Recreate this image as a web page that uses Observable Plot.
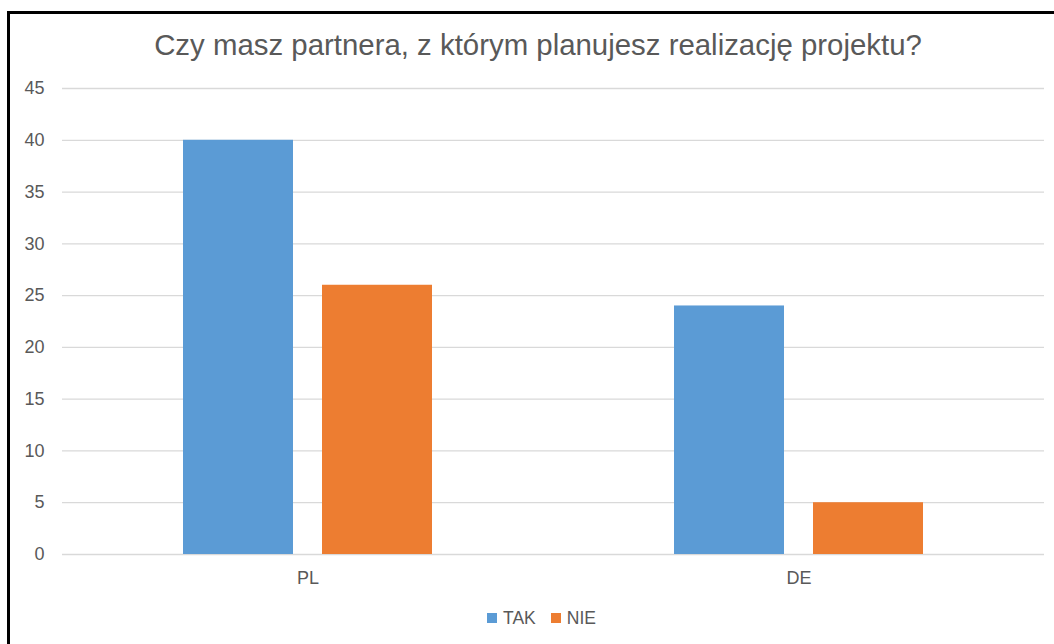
<!DOCTYPE html>
<html>
<head>
<meta charset="utf-8">
<script src="https://cdn.jsdelivr.net/npm/d3@7"></script>
<script src="https://cdn.jsdelivr.net/npm/@observablehq/plot@0.6"></script>
<style>
  html, body { margin: 0; padding: 0; background: #fff; }
  body { width: 1054px; height: 644px; position: relative; overflow: hidden; font-family: "Liberation Sans", Arial, sans-serif; }
  #frame { position: absolute; left: 7px; top: 11px; width: 1060px; height: 650px; border-left: 3px solid #000; border-top: 3px solid #000; box-sizing: border-box; }
  #title { position: absolute; left: 0; width: 1076px; top: 30px; text-align: center; font-size: 29.4px; line-height: 29px; color: #595959; white-space: nowrap; }
  #chart { position: absolute; left: 0; top: 0; }
  #legend { position: absolute; left: 487px; top: 608px; height: 20px; display: flex; align-items: center; font-size: 17.5px; line-height: 20px; color: #595959; white-space: nowrap; }
  .item { display: flex; align-items: center; margin-right: 15px; }
  .sw { display: inline-block; width: 10px; height: 10px; margin-right: 6px; }
</style>
</head>
<body>
<div id="frame"></div>
<div id="title"></div>
<div id="chart"></div>
<div id="legend"></div>
<script>
const titleText = "Czy masz partnera, z którym planujesz realizację projektu?";
const categories = ["PL", "DE"];
const series = ["TAK", "NIE"];
const takValues = [40, 24];
const nieValues = [26, 5];
const yTicks = [0, 5, 10, 15, 20, 25, 30, 35, 40, 45];
const colors = ["#5B9BD5", "#ED7D31"];

const data = [];
categories.forEach((c, i) => {
  data.push({category: c, series: "TAK", value: takValues[i]});
  data.push({category: c, series: "NIE", value: nieValues[i]});
});

document.getElementById("title").textContent = titleText;

const plot = Plot.plot({
  width: 1054,
  height: 600,
  marginLeft: 61,
  marginRight: 10,
  marginTop: 88,
  marginBottom: 46,
  style: {fontFamily: "'Liberation Sans', Arial, sans-serif", fontSize: "18px", color: "#595959", background: "transparent"},
  fx: {domain: categories, padding: 0, label: null},
  x: {domain: series, paddingInner: 0.21, paddingOuter: 0.87, axis: null},
  y: {domain: [0, 45], label: null},
  color: {domain: series, range: colors},
  marks: [
    Plot.gridY(yTicks, {stroke: "#d9d9d9", strokeOpacity: 1, strokeWidth: 1.3}),
    Plot.barY(data, {fx: "category", x: "series", y: "value", fill: "series"}),
    Plot.axisY(yTicks, {tickSize: 0, tickPadding: 18, fill: "#595959", fontSize: 18, label: null}),
    Plot.axisFx({anchor: "bottom", tickSize: 0, tickPadding: 17, fill: "#595959", fontSize: 18, label: null})
  ]
});
document.getElementById("chart").appendChild(plot);

const colorScale = plot.scale("color");
const legend = d3.select("#legend");
const items = legend.selectAll(".item").data(colorScale.domain).join("div").attr("class", "item");
items.append("span").attr("class", "sw").style("background", d => colorScale.apply(d));
items.append("span").text(d => d);
</script>
</body>
</html>
